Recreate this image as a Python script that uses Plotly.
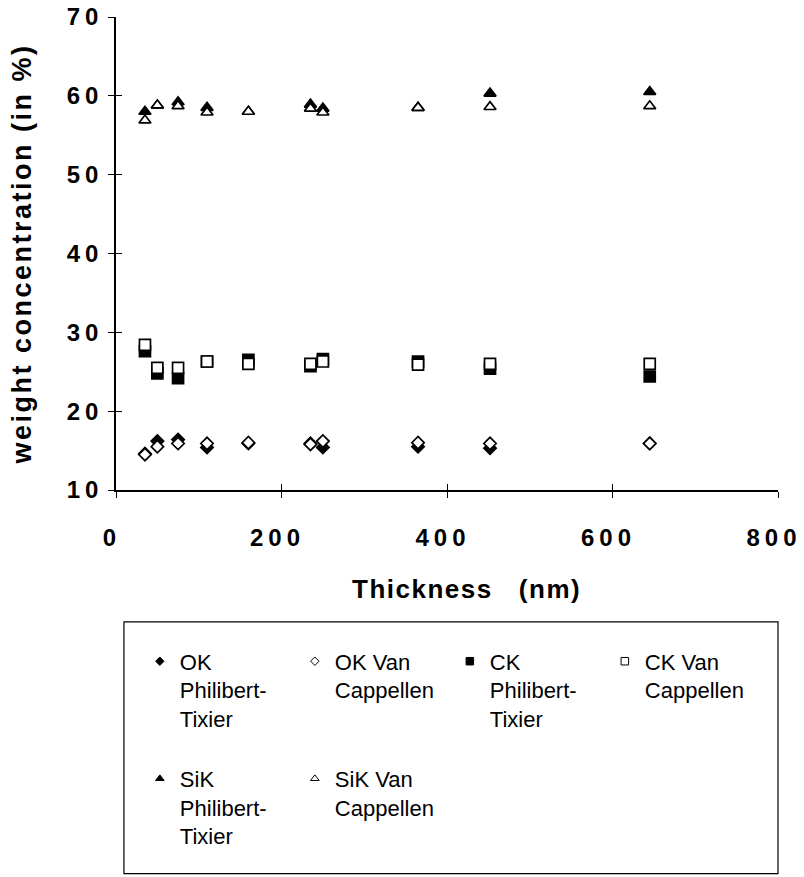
import plotly.graph_objects as go

# Sample thickness (nm)
thickness = [35, 50, 75, 110, 160, 235, 250, 365, 452, 645]

# Weight concentrations (%) from the two correction models
ok_pt = [14.6, 16.2, 16.4, 15.4, 15.9, 15.9, 15.4, 15.5, 15.3, 15.9]
ok_vc = [14.5, 15.5, 15.9, 15.9, 16.0, 15.8, 16.2, 16.0, 15.9, 15.9]
ck_pt = [27.6, 24.8, 24.2, 26.3, 26.5, 25.7, 26.6, 26.3, 25.4, 24.4]
ck_vc = [28.4, 25.5, 25.5, 26.3, 26.0, 26.0, 26.3, 25.9, 26.0, 26.0]
sik_pt = [58.0, 58.8, 59.2, 58.5, 58.0, 58.9, 58.4, 58.5, 60.3, 60.5]
sik_vc = [56.9, 58.8, 58.7, 57.9, 58.0, 58.4, 57.9, 58.5, 58.6, 58.7]

series_names = [
    "OK<br>Philibert-<br>Tixier<br>\u00a0",
    "OK Van<br>Cappellen",
    "CK<br>Philibert-<br>Tixier<br>\u00a0",
    "CK Van<br>Cappellen",
    "SiK<br>Philibert-<br>Tixier",
    "SiK Van<br>Cappellen",
]
series_values = [ok_pt, ok_vc, ck_pt, ck_vc, sik_pt, sik_vc]
symbols = ["diamond", "diamond", "square", "square", "triangle-up", "triangle-up"]
filled = [True, False, True, False, True, False]
sizes = {"diamond": 9.5, "square": 11, "triangle-up": 10.5}
legend_sizes = {"diamond": 6.5, "square": 7.5, "triangle-up": 7.5}

FONT = "Liberation Sans, Arial, Helvetica, sans-serif"

fig = go.Figure()

for name, vals, sym, fill in zip(series_names, series_values, symbols, filled):
    face = "black" if fill else "white"
    fig.add_trace(go.Scatter(
        x=thickness, y=vals, mode="markers", showlegend=False,
        marker=dict(symbol=sym, size=sizes[sym], color=face,
                    line=dict(color="black", width=1.7)),
        hoverinfo="x+y",
    ))

# Legend keys use smaller symbols than the plotted points
for name, sym, fill in zip(series_names, symbols, filled):
    face = "black" if fill else "white"
    fig.add_trace(go.Scatter(
        x=[None], y=[None], mode="markers", name=name,
        marker=dict(symbol=sym, size=legend_sizes[sym], color=face,
                    line=dict(color="black", width=1)),
    ))

tick_font = dict(family=FONT, size=24, color="black")

fig.update_layout(
    width=804, height=877,
    margin=dict(l=116, r=26, t=17, b=387, autoexpand=False),
    paper_bgcolor="white", plot_bgcolor="white",
    font=dict(family=FONT, color="black"),
    xaxis=dict(
        range=[0, 800], tickvals=[0, 200, 400, 600, 800],
        ticktext=["<b>0</b>", "<b>200</b>", "<b>400</b>", "<b>600</b>", "<b>800</b>"],
        showgrid=False, zeroline=False, showline=True, linecolor="black", linewidth=1.5,
        ticks="outside", ticklen=6, tickwidth=1, tickcolor="black",
        tickfont=tick_font, ticklabelstandoff=19,
    ),
    yaxis=dict(
        range=[10, 70], tickvals=[10, 20, 30, 40, 50, 60, 70],
        ticktext=["<b>%d</b>" % v for v in [10, 20, 30, 40, 50, 60, 70]],
        showgrid=False, zeroline=False, showline=True, linecolor="black", linewidth=1.5,
        ticks="outside", ticklen=6, tickwidth=1, tickcolor="black",
        tickfont=tick_font, ticklabelstandoff=0,
        title=dict(text="<b>weight concentration (in %)</b>",
                   font=dict(family=FONT, size=27, color="black"), standoff=37),
    ),
    # companion axes carrying the inward half of each cross tick
    xaxis2=dict(range=[0, 800], tickvals=[0, 200, 400, 600, 800], overlaying="x",
                side="bottom", anchor="y", showticklabels=False, showgrid=False,
                zeroline=False, showline=False, ticks="inside", ticklen=6,
                tickwidth=1, tickcolor="black"),
    yaxis2=dict(range=[10, 70], tickvals=[10, 20, 30, 40, 50, 60, 70], overlaying="y",
                side="left", anchor="x", showticklabels=False, showgrid=False,
                zeroline=False, showline=False, ticks="inside", ticklen=6,
                tickwidth=1, tickcolor="black"),
    legend=dict(
        orientation="h", x=0.036, xanchor="left", y=-0.318, yanchor="top",
        borderwidth=0, bgcolor="rgba(0,0,0,0)",
        entrywidth=110, entrywidthmode="pixels", valign="top",
        font=dict(family=FONT, size=22, color="black"),
        itemwidth=30, tracegroupgap=0,
    ),
    annotations=[dict(text="<b>Thickness\u00a0\u00a0\u00a0(nm)</b>", xref="paper", yref="paper",
                      x=0.53, y=-0.21, xanchor="center", yanchor="middle", showarrow=False,
                      font=dict(family=FONT, size=26, color="black"))],
    # frame around the legend block
    shapes=[dict(type="rect", xref="paper", yref="paper",
                 x0=0.012, x1=1.0, y0=-0.811, y1=-0.279,
                 line=dict(color="black", width=1.2), fillcolor="rgba(0,0,0,0)")],
)

# invisible trace so the companion axes are drawn
fig.add_trace(go.Scatter(x=[None], y=[None], xaxis="x2", yaxis="y2",
                         showlegend=False, hoverinfo="skip"))

# widen the letter spacing of the bold axis texts; the x labels are nudged
# left by the trailing spacing so the digits stay centred under their ticks
spacing_js = """
var gd = document.getElementById('{plot_id}');
function spaceOut() {
  gd.querySelectorAll('.xtick text').forEach(function(t){
    t.style.letterSpacing = '5px'; t.setAttribute('dx', '-4');
  });
  gd.querySelectorAll('.ytick text').forEach(function(t){ t.style.letterSpacing = '5px'; });
  gd.querySelectorAll('.g-ytitle text').forEach(function(t){ t.style.letterSpacing = '2.5px'; });
  gd.querySelectorAll('.annotation-text').forEach(function(t){ t.style.letterSpacing = '1.5px'; });
}
spaceOut();
gd.on('plotly_afterplot', spaceOut);
"""

fig.write_html("out.html", post_script=spacing_js)
